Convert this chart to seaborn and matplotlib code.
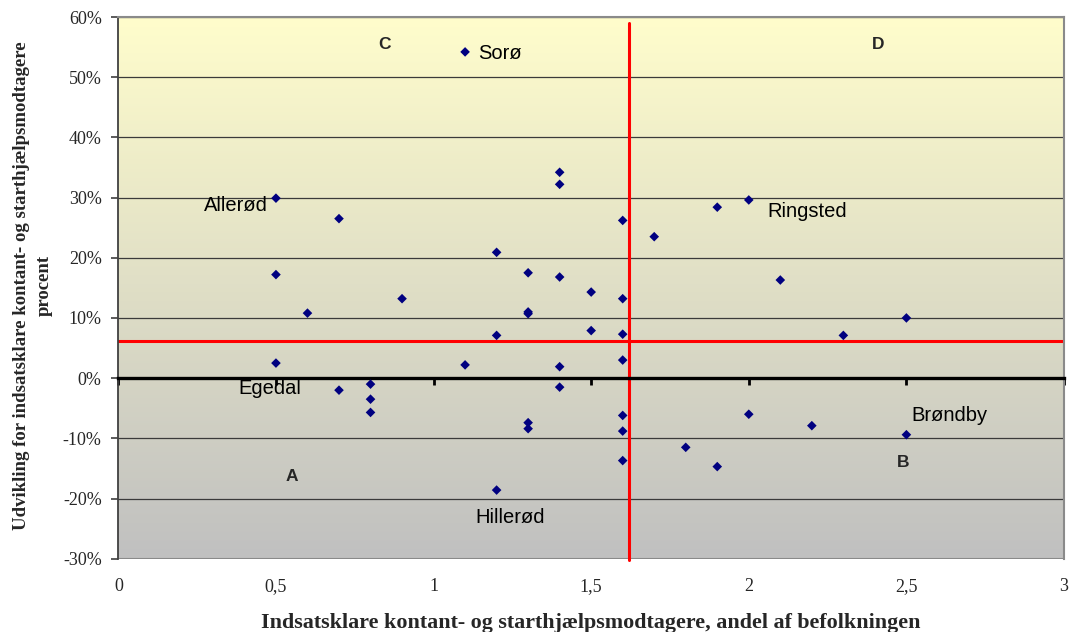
import numpy as np
import pandas as pd
import matplotlib
matplotlib.use("Agg")
import matplotlib.pyplot as plt
import matplotlib.ticker as mticker
from matplotlib.colors import LinearSegmentedColormap
import seaborn as sns

# ---- data ----
andel = [1.1, 0.5, 0.7, 0.5, 0.6, 0.9, 0.5, 0.7, 0.8, 0.8, 0.8, 1.1,
         1.2, 1.2, 1.2, 1.3, 1.3, 1.3, 1.3, 1.3, 1.4, 1.4, 1.4, 1.4, 1.4,
         1.5, 1.5, 1.6, 1.6, 1.6, 1.6, 1.6, 1.6, 1.6, 1.7, 1.8, 1.9, 1.9,
         2.0, 2.0, 2.1, 2.2, 2.3, 2.5, 2.5]
udvikling = [54.2, 29.9, 26.5, 17.2, 10.8, 13.2, 2.5, -2.0, -1.0, -3.5, -5.7, 2.2,
             20.9, 7.1, -18.6, 17.5, 10.7, 11.0, -7.4, -8.4, 34.2, 32.2, 16.8, 1.9, -1.5,
             14.3, 7.9, 26.2, 13.2, 7.3, 3.0, -6.2, -8.8, -13.7, 23.5, -11.5, 28.4, -14.7,
             29.6, -6.0, 16.3, -7.9, 7.1, 10.0, -9.4]
kommune = ["Sorø", "Allerød", "", "", "", "", "Egedal", "", "", "", "", "",
           "", "", "Hillerød", "", "", "", "", "", "", "", "", "", "",
           "", "", "", "", "", "", "", "", "", "", "", "", "",
           "Ringsted", "", "", "", "", "", "Brøndby"]

x_ticks = [0, 0.5, 1, 1.5, 2, 2.5, 3]
x_ticklabels = ["0", "0,5", "1", "1,5", "2", "2,5", "3"]
y_ticks = [-30, -20, -10, 0, 10, 20, 30, 40, 50, 60]
gns_x = 1.62   # red vertical reference
gns_y = 6.15   # red horizontal reference
quadrants = ["A", "B", "C", "D"]
quad_pos = [(0.55, -16.4), (2.49, -14.0), (0.845, 55.4), (2.41, 55.4)]

# label offsets (points) relative to the point
label_style = {
    "Sorø": ((9.5, -1), "left"),
    "Allerød": ((-6, -5), "right"),
    "Egedal": ((-4.5, -18), "center"),
    "Hillerød": ((10, -20), "center"),
    "Ringsted": ((13.5, -8.5), "left"),
    "Brøndby": ((3.5, 13.5), "left"),
}

df = pd.DataFrame({"andel": andel, "udvikling": udvikling, "kommune": kommune})

sns.set_theme(style="white")
plt.rcParams["font.family"] = ["Liberation Serif", "DejaVu Serif"]

fig = plt.figure(figsize=(10.7, 6.32), dpi=100)
ax = fig.add_axes([0.1106, 0.1160, 0.8838, 0.8571])

# background gradient
cmap = LinearSegmentedColormap.from_list("bg", [(192/255, 192/255, 192/255), (1.0, 253/255, 204/255)])
grad = np.linspace(0, 1, 256).reshape(-1, 1)
ax.imshow(grad, cmap=cmap, aspect="auto", origin="lower",
          extent=[0, 1, 0, 1], transform=ax.transAxes, zorder=0)

ax.set_xlim(0, 3)
ax.set_ylim(-30, 60)

# grid
for yt in y_ticks:
    if yt != 0:
        ax.axhline(yt, color="#3a3a3a", lw=0.9, zorder=1)

# reference lines
ax.axhline(gns_y, color="#ff0000", lw=2.2, zorder=2)
ax.plot([gns_x, gns_x], [59.0, -30.2], color="#ff0000", lw=2.2, zorder=2, clip_on=False)

sns.scatterplot(data=df, x="andel", y="udvikling", marker="D", s=24,
                color="#000080", edgecolor="none", linewidth=0, ax=ax, zorder=4)

# labels
for xv, yv, name in zip(andel, udvikling, kommune):
    if name:
        off, ha = label_style[name]
        ax.annotate(name, (xv, yv), xytext=off, textcoords="offset points",
                    ha=ha, va="center", fontsize=14.5, family="Liberation Sans",
                    color="black", zorder=5)

for q, (qx, qy) in zip(quadrants, quad_pos):
    ax.text(qx, qy, q, ha="center", va="center", fontsize=12.5,
            fontweight="bold", family="Liberation Sans", zorder=5)

# spines
ax.spines["bottom"].set_position(("data", 0))
ax.spines["bottom"].set_color("black")
ax.spines["bottom"].set_linewidth(2.4)
ax.spines["bottom"].set_zorder(3)
ax.spines["left"].set_color("#404040")
ax.spines["left"].set_linewidth(1.3)
for s in ["top", "right"]:
    ax.spines[s].set_color("#8a8a8a")
    ax.spines[s].set_linewidth(1.5)
ax.axhline(-30, color="#8a8a8a", lw=1.5, zorder=1)

ax.set_xticks(x_ticks)
ax.set_xticklabels([])
ax.tick_params(axis="x", direction="out", length=5, width=2, color="black", bottom=True)
ax.set_yticks(y_ticks)
ax.yaxis.set_major_formatter(mticker.FuncFormatter(lambda v, p: f"{v:.0f}%"))
ax.tick_params(axis="y", direction="out", length=5, width=1.2, color="#404040",
               left=True, labelsize=13, pad=7)

sec = ax.secondary_xaxis("bottom")
sec.set_xticks(x_ticks)
sec.set_xticklabels(x_ticklabels)
sec.tick_params(length=0, labelsize=13, pad=14)
sec.spines["bottom"].set_visible(False)

ax.set_xlabel("")
ax.set_ylabel("")
fig.text(0.5525, 0.0065, "Indsatsklare kontant- og starthjælpsmodtagere, andel af befolkningen",
         ha="center", va="baseline", fontsize=15.8, fontweight="bold")
fig.text(0.031, 0.548, "Udvikling for indsatsklare kontant- og starthjælpsmodtagere\nprocent",
         ha="center", va="center", rotation=90, fontsize=13.5, fontweight="bold",
         linespacing=1.45, multialignment="center")

fig.savefig("out.png", dpi=100)
